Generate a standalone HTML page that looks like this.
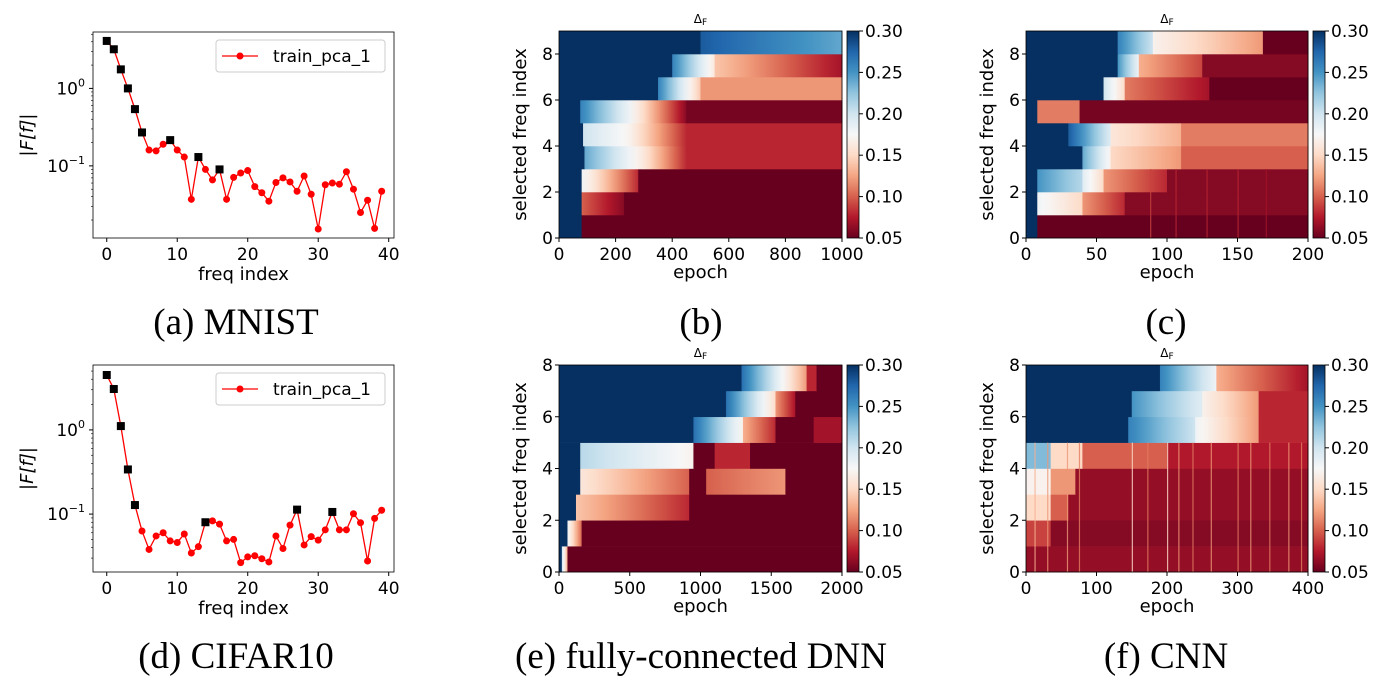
<!DOCTYPE html>
<html><head><meta charset="utf-8"><style>
html,body{margin:0;padding:0;background:#fff;}
svg text{font-family:"DejaVu Sans","Liberation Sans",sans-serif;fill:#000;}
.cap{font-family:"Liberation Serif",serif;font-size:37px;}
</style></head><body>
<svg id="fig" width="1399" height="695" viewBox="0 0 1399 695" xmlns="http://www.w3.org/2000/svg"></svg>
<script>
// ---------- data ----------
const freqIdx = Array.from({length:40},(_,i)=>i);
const mnistVals = [4.1,3.2,1.76,1.0,0.54,0.27,0.16,0.156,0.19,0.215,0.16,0.13,0.037,0.13,0.09,0.066,0.09,0.037,0.071,0.081,0.087,0.054,0.045,0.035,0.061,0.07,0.062,0.047,0.074,0.043,0.0153,0.057,0.06,0.058,0.084,0.05,0.025,0.036,0.0156,0.047];
const mnistSel = [0,1,2,3,4,5,9,13,16];
const cifarVals = [4.49,3.06,1.11,0.339,0.128,0.063,0.038,0.055,0.06,0.048,0.046,0.058,0.0345,0.041,0.08,0.083,0.076,0.048,0.05,0.0265,0.031,0.032,0.0295,0.027,0.055,0.039,0.074,0.113,0.043,0.054,0.049,0.065,0.106,0.065,0.065,0.101,0.079,0.0277,0.089,0.111];
const cifarSel = [0,1,2,3,4,14,27,32];
const xTicksLine = [0,10,20,30,40];

// heatmap rows: segments [epochStart, epochEnd, valueStart, valueEnd]
const heatB = [
 [[0,80,.3,.3],[80,1000,.05,.05]],
 [[0,80,.3,.3],[80,230,.10,.06],[230,1000,.05,.05]],
 [[0,80,.3,.3],[80,280,.18,.08],[280,1000,.05,.05]],
 [[0,90,.3,.3],[90,300,.24,.16],[300,450,.16,.08],[450,1000,.08,.08]],
 [[0,85,.3,.3],[85,250,.20,.17],[250,450,.17,.08],[450,1000,.08,.08]],
 [[0,75,.3,.3],[75,250,.26,.18],[250,450,.18,.06],[450,1000,.055,.055]],
 [[0,350,.3,.3],[350,500,.26,.14],[500,1000,.12,.12]],
 [[0,400,.3,.3],[400,550,.26,.16],[550,1000,.14,.07]],
 [[0,500,.3,.3],[500,1000,.28,.24]]
];
const heatC = [
 [[0,8,.3,.3],[8,200,.05,.05]],
 [[0,8,.3,.3],[8,40,.18,.15],[40,70,.12,.08],[70,200,.06,.06]],
 [[0,8,.3,.3],[8,40,.25,.21],[40,55,.19,.15],[55,100,.12,.08],[100,200,.06,.06]],
 [[0,40,.3,.3],[40,60,.24,.17],[60,110,.15,.12],[110,200,.10,.10]],
 [[0,30,.3,.3],[30,60,.28,.19],[60,110,.16,.13],[110,200,.11,.11]],
 [[0,8,.3,.3],[8,38,.11,.11],[38,200,.055,.055]],
 [[0,55,.3,.3],[55,70,.2,.15],[70,130,.11,.07],[130,200,.05,.05]],
 [[0,65,.3,.3],[65,80,.25,.18],[80,125,.13,.09],[125,200,.06,.06]],
 [[0,65,.3,.3],[65,90,.26,.2],[90,168,.17,.12],[168,200,.05,.05]]
];
const heatE = [
 [[0,20,.3,.3],[20,60,.2,.12],[60,2000,.05,.05]],
 [[0,60,.3,.3],[60,160,.18,.1],[160,2000,.05,.05]],
 [[0,120,.3,.3],[120,920,.14,.08],[920,2000,.05,.05]],
 [[0,150,.3,.3],[150,920,.16,.1],[920,1040,.05,.05],[1040,1600,.1,.12],[1600,2000,.05,.05]],
 [[0,150,.3,.3],[150,950,.21,.17],[950,1100,.05,.05],[1100,1350,.08,.08],[1350,2000,.05,.05]],
 [[0,950,.3,.3],[950,1300,.27,.17],[1300,1530,.13,.08],[1530,1800,.05,.05],[1800,2000,.07,.07]],
 [[0,1180,.3,.3],[1180,1530,.27,.15],[1530,1670,.12,.07],[1670,2000,.05,.05]],
 [[0,1290,.3,.3],[1290,1750,.27,.12],[1750,1820,.08,.08],[1820,2000,.05,.05]]
];
const heatF = [
 [[0,400,.065,.065]],
 [[0,35,.09,.09],[35,400,.06,.06]],
 [[0,35,.15,.15],[35,60,.1,.1],[60,400,.065,.065]],
 [[0,35,.17,.17],[35,70,.12,.12],[70,400,.065,.065]],
 [[0,35,.23,.23],[35,80,.15,.15],[80,200,.1,.1],[200,400,.075,.075]],
 [[0,145,.3,.3],[145,240,.26,.2],[240,330,.18,.12],[330,400,.08,.08]],
 [[0,150,.3,.3],[150,250,.25,.19],[250,330,.17,.12],[330,400,.08,.08]],
 [[0,190,.3,.3],[190,270,.26,.18],[270,400,.13,.07]]
];
const stripeEpochsF = [12,30,58,75,150,172,200,216,236,262,300,318,345,372,390];
const stripeValsF = [.13,.12,.12,.11,.15,.11,.15,.12,.11,.12,.11,.12,.11,.12,.11];
const stripeEpochsC = [88,106,128,150,170];
const stripeValsC = [.09,.08,.08,.08,.07];
const cbTicks = [0.05,0.10,0.15,0.20,0.25,0.30];
const xTicksB = [0,200,400,600,800,1000];
const xTicksC = [0,50,100,150,200];
const xTicksE = [0,500,1000,1500,2000];
const xTicksF = [0,100,200,300,400];
const yTicks9 = [0,2,4,6,8];

// ---------- helpers ----------
const NS="http://www.w3.org/2000/svg";
const svg=document.getElementById('fig');
const defs=document.createElementNS(NS,'defs');svg.appendChild(defs);
function el(tag,attrs,parent,text){const e=document.createElementNS(NS,tag);for(const k in attrs)e.setAttribute(k,attrs[k]);if(text!==undefined)e.textContent=text;(parent||svg).appendChild(e);return e;}
const RdBu=['#67001f','#b2182b','#d6604d','#f4a582','#fddbc7','#f7f7f7','#d1e5f0','#92c5de','#4393c3','#2166ac','#053061'];
function hex(h){return [1,3,5].map(i=>parseInt(h.substr(i,2),16));}
function cmap(v){let t=(v-0.05)/0.25;t=Math.max(0,Math.min(1,t));const p=t*10,i=Math.min(9,Math.floor(p)),f=p-i;const a=hex(RdBu[i]),b=hex(RdBu[i+1]);return 'rgb('+a.map((x,k)=>Math.round(x+(b[k]-x)*f)).join(',')+')';}
let gid=0;

function heatmap(name,x0,y0,x1,y1,rows,xmax,xticks,nrows,stripesE,stripesV,stripeFrom){
  const g=el('g',{},svg);
  
  
  const sx=e=>x0+(e/xmax)*(x1-x0);
  const sy=r=>y1-(r/nrows)*(y1-y0);
  rows.forEach((segs,r)=>{segs.forEach(s=>{
    let fill;
    if(s[2]===s[3]) fill=cmap(s[2]); else {
      const id='g'+(gid++);const lg=el('linearGradient',{id:id,x1:0,x2:1,y1:0,y2:0},defs);
      for(let k=0;k<=8;k++) el('stop',{offset:k/8,'stop-color':cmap(s[2]+(s[3]-s[2])*k/8)},lg);
      fill='url(#'+id+')';
    }
    const rc=el('rect',{x:sx(s[0]),y:sy(r+1),width:Math.max(0,sx(s[1])-sx(s[0]))+0.5,height:sy(r)-sy(r+1)+0.3,fill:fill},g);
    
    
  });});
  if(stripesE){stripesE.forEach((e,i)=>{
    const st=el('rect',{x:sx(e),y:sy(stripeFrom),width:1.2,height:sy(0)-sy(stripeFrom),fill:cmap(stripesV[i]),opacity:0.8},g);
    
    
  });}
  el('rect',{x:x0,y:y0,width:x1-x0,height:y1-y0,fill:'none',stroke:'#000','stroke-width':0.8},g);
  xticks.forEach(t=>{const x=sx(t);el('line',{x1:x,x2:x,y1:y1,y2:y1+4,stroke:'#000'},g);
    const tx=el('text',{x:x,y:y1+22,'font-size':17,'text-anchor':'middle'},g,String(t));
    });
  yTicks9.filter(t=>t<=nrows).forEach(t=>{const y=sy(t);el('line',{x1:x0-4,x2:x0,y1:y,y2:y,stroke:'#000'},g);
    const tx=el('text',{x:x0-6,y:y+6,'font-size':17,'text-anchor':'end'},g,String(t));
    });
  const xl=el('text',{x:(x0+x1)/2,y:y1+40,'font-size':18,'text-anchor':'middle'},g,'epoch');
  
  const yl=el('text',{x:0,y:0,'font-size':18,'text-anchor':'middle',transform:'translate('+(x0-33)+','+((y0+y1)/2)+') rotate(-90)'},g,'selected freq index');
  
  const tt=el('text',{x:(x0+x1)/2,y:y0-8,'font-size':12,'text-anchor':'middle'},g,'Δ');
  el('tspan',{'font-size':9,dy:2},tt,'F');
  
  // colorbar
  const cx0=x1+5,cx1=x1+17;
  const cid='cb'+(gid++);const lg=el('linearGradient',{id:cid,x1:0,x2:0,y1:1,y2:0},defs);
  for(let k=0;k<=20;k++) el('stop',{offset:k/20,'stop-color':cmap(0.05+0.25*k/20)},lg);
  const cb=el('rect',{x:cx0,y:y0,width:cx1-cx0,height:y1-y0,fill:'url(#'+cid+')',stroke:'#000','stroke-width':0.8},g);
  
  cbTicks.forEach(v=>{const y=y1-(v-0.05)/0.25*(y1-y0);el('line',{x1:cx1,x2:cx1+4,y1:y,y2:y,stroke:'#000'},g);
    const tx=el('text',{x:cx1+6,y:y+6,'font-size':17},g,v.toFixed(2));
    });
}

function lineplot(name,x0,y0,x1,y1,vals,sel,lmin,lmax){
  const g=el('g',{},svg);
  
  
  const xmin=-1.95,xmax=40.75;
  const sx=v=>x0+(v-xmin)/(xmax-xmin)*(x1-x0);
  const sy=v=>y1-(Math.log10(v)-lmin)/(lmax-lmin)*(y1-y0);
  el('rect',{x:x0,y:y0,width:x1-x0,height:y1-y0,fill:'none',stroke:'#000','stroke-width':0.8},g);
  xTicksLine.forEach(t=>{const x=sx(t);el('line',{x1:x,x2:x,y1:y1,y2:y1+4,stroke:'#000'},g);
    const tx=el('text',{x:x,y:y1+22,'font-size':17,'text-anchor':'middle'},g,String(t));
    });
  for(let d=Math.ceil(lmin);d<=Math.floor(lmax);d++){const y=sy(Math.pow(10,d));
    el('line',{x1:x0-4,x2:x0,y1:y,y2:y,stroke:'#000'},g);
    const tx=el('text',{x:x0-8,y:y+6,'font-size':17,'text-anchor':'end'},g,'10');
    el('tspan',{'font-size':11,dy:-8},tx,String(d).replace('-','−'));
    }
  for(let d=Math.floor(lmin);d<=Math.ceil(lmax);d++)for(let m=2;m<10;m++){const v=m*Math.pow(10,d);const l=Math.log10(v);
    if(l>lmin&&l<lmax){const y=sy(v);el('line',{x1:x0-2,x2:x0,y1:y,y2:y,stroke:'#000','stroke-width':0.6},g);}}
  const pts=vals.map((v,i)=>sx(freqIdx[i])+','+sy(v)).join(' ');
  const pl=el('polyline',{points:pts,fill:'none',stroke:'#ff0000','stroke-width':1.3},g);
  
  vals.forEach((v,i)=>{const c=el('circle',{cx:sx(freqIdx[i]),cy:sy(v),r:3.5,fill:'#ff0000'},g);
    });
  sel.forEach(i=>{const s=el('rect',{x:sx(freqIdx[i])-4,y:sy(vals[i])-4,width:8,height:8,fill:'#000'},g);
    });
  const lgd=el('g',{},g);
  
  el('rect',{x:216,y:y0+8,width:169,height:32,rx:3,fill:'#fff',stroke:'#ccc','stroke-width':1},lgd);
  el('line',{x1:222,x2:258,y1:y0+24,y2:y0+24,stroke:'#ff0000','stroke-width':1.3},lgd);
  el('circle',{cx:240,cy:y0+24,r:3.5,fill:'#ff0000'},lgd);
  const lt=el('text',{x:273,y:y0+30,'font-size':17},lgd,'train_pca_1');
  
  const xl=el('text',{x:(x0+x1)/2,y:y1+42,'font-size':18,'text-anchor':'middle'},g,'freq index');
  
  const yl=el('text',{x:0,y:0,'font-size':18,'text-anchor':'middle',transform:'translate(33,'+((y0+y1)/2)+') rotate(-90)','font-style':'italic'},g,'|F[f]|');
  
}

lineplot('mnist-spectrum-plot',93,32,394,238,mnistVals,mnistSel,-1.931,0.728);
lineplot('cifar10-spectrum-plot',93,365,394,572,cifarVals,cifarSel,-1.688,0.771);
heatmap('dnn-mnist-heatmap',559,31,842,238,heatB,1000,xTicksB,9);
heatmap('cnn-mnist-heatmap',1026,31,1308,238,heatC,200,xTicksC,9,stripeEpochsC,stripeValsC,3);
heatmap('dnn-cifar-heatmap',559,365,842,572,heatE,2000,xTicksE,8);
heatmap('cnn-cifar-heatmap',1026,365,1308,572,heatF,400,xTicksF,8,stripeEpochsF,stripeValsF,5);

const caps=[[236,334,'(a) MNIST','caption-a'],[701,334,'(b)','caption-b'],[1166,334,'(c)','caption-c'],
 [236,668,'(d) CIFAR10','caption-d'],[701,668,'(e) fully-connected DNN','caption-e'],[1166,668,'(f) CNN','caption-f']];
caps.forEach(c=>{const t=el('text',{x:c[0],y:c[1],'text-anchor':'middle',class:'cap'},svg,c[2]);
  
  });
</script>
</body></html>
